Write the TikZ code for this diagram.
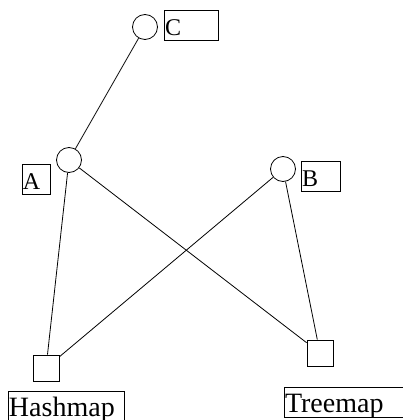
\documentclass[tikz,border=0pt]{standalone}
\usepackage{fontspec}
\setmainfont{Liberation Serif}
\begin{document}
\begin{tikzpicture}[x=1pt, y=-1pt, line width=0.8pt,
    vert/.style = {draw, circle, minimum size=25pt, inner sep=0pt},
    leaf/.style = {draw, rectangle, minimum size=26pt, inner sep=0pt},
    tag/.style  = {draw, rectangle, inner xsep=1pt, inner ysep=0.5pt,
                   text height=25pt, text depth=4pt, align=left,
                   font=\fontsize{24}{26}\selectfont},
    word/.style = {tag, font=\fontsize{28}{30}\selectfont}]
      \useasboundingbox (0,0) rectangle (402,420);
      \node (c) at (145,27)  [vert] {};
      \node (a) at (69,160)  [vert] {};
      \node (b) at (283,169) [vert] {};
      \node (hash) at (46,368)  [leaf] {};
      \node (tree) at (320,353) [leaf] {};
      \node (ctag) at (191,25)   [tag, text width=52pt]  {C};
      \node (atag) at (36,179)   [tag, text width=26pt]  {A};
      \node (btag) at (320.5,176) [tag, text width=37pt] {B};
      \node (htag) at (66,406)   [word, text width=114pt] {Hashmap};
      \node (ttag) at (343.5,402) [word, text width=117pt] {Treemap};
      \draw (c) -- (a);
      \draw (a) -- (hash);
      \draw (a) -- (tree);
      \draw (b) -- (hash);
      \draw (b) -- (tree);
\end{tikzpicture}
\end{document}
